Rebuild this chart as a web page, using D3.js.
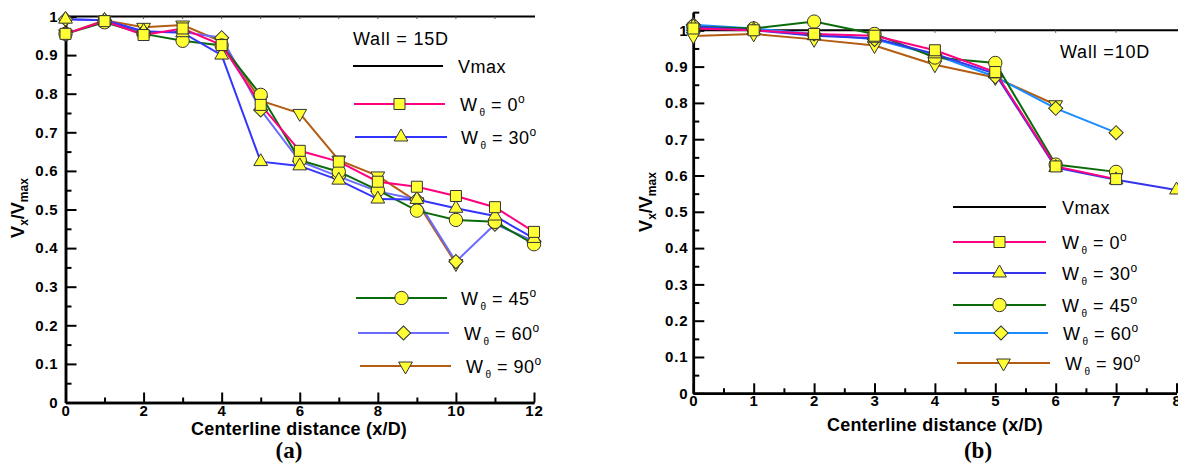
<!DOCTYPE html>
<html><head><meta charset="utf-8">
<script src="https://cdn.jsdelivr.net/npm/d3@7/dist/d3.min.js"></script>
<style>
html,body{margin:0;padding:0;background:#fff;}
svg{display:block;}
text{font-family:"Liberation Sans",Arial,Helvetica,sans-serif;}
</style></head>
<body>
<svg id="c" width="1178" height="470"></svg>
<script>
// ---------- DATA ----------
const seriesNames = ["0", "30", "45", "60", "90"];

// Panel (a): Wall = 15D
const xA = [0,1,2,3,4,5,6,7,8,9,10,11,12];
const a_W0  = [0.955,0.988,0.952,0.969,0.926,0.771,0.652,0.624,0.572,0.559,0.535,0.506,0.442];
const a_W30 = [0.993,0.990,0.962,0.958,0.900,0.624,0.613,0.576,0.527,0.526,0.503,0.483,0.425];
const a_W45 = [0.955,0.985,0.955,0.937,0.925,0.797,0.628,0.598,0.550,0.497,0.473,0.468,0.410];
const a_W60 = [0.993,0.990,0.960,0.960,0.945,0.758,0.625,0.585,0.547,0.526,0.365,0.462,0.418];
const a_W90 = [0.955,0.990,0.972,0.978,0.935,0.782,0.749,0.628,0.587,0.520,0.360];

// Panel (b): Wall = 10D
const xB = [0,1,2,3,4,5,6,7,8];
const b_W0  = [1.005,1.000,0.990,0.985,0.945,0.885,0.625,0.590];
const b_W30 = [1.010,1.000,0.985,0.978,0.935,0.880,0.622,0.588,0.560];
const b_W45 = [1.010,1.005,1.024,0.990,0.925,0.910,0.630,0.610];
const b_W60 = [1.015,1.005,0.990,0.975,0.932,0.872,0.785,0.718];
const b_W90 = [0.984,0.990,0.975,0.958,0.905,0.870,0.795];

const vmax = 1;

// tick values
const aXMajor = [0,2,4,6,8,10,12];
const aXMinor = [1,3,5,7,9,11];
const aYMajor = [0,0.1,0.2,0.3,0.4,0.5,0.6,0.7,0.8,0.9,1];
const aYMinor = [0.05,0.15,0.25,0.35,0.45,0.55,0.65,0.75,0.85,0.95];
const bXMajor = [0,1,2,3,4,5,6,7,8];
const bXMinor = [0.5,1.5,2.5,3.5,4.5,5.5,6.5,7.5];
const bYMajor = [0,0.1,0.2,0.3,0.4,0.5,0.6,0.7,0.8,0.9,1];
const bYMinor = [0.05,0.15,0.25,0.35,0.45,0.55,0.65,0.75,0.85,0.95,1.05];

// ---------- STYLE ----------
const fillY = "#ffff33";
const mStroke = "#333";
const shapes = ["square","triangle","circle","diamond","down"];
const colorsA = ["#ff0080","#3434ff","#0b6b0b","#6b6bff","#b35c12"];
const colorsB = ["#ff0080","#3434ee","#0b6b0b","#1a8cff","#b35c12"];

const svg = d3.select("#c");

function markerPath(shape){
  if(shape==="square") return d3.symbol(d3.symbolSquare,121)();
  if(shape==="circle") return d3.symbol(d3.symbolCircle,140)();
  if(shape==="triangle"||shape==="down") return d3.symbol(d3.symbolTriangle,82)();
  if(shape==="diamond") return d3.symbol(d3.symbolSquare,100)();
}
function markerTransform(shape,x,y){
  if(shape==="down") return `translate(${x},${y}) rotate(180)`;
  if(shape==="diamond") return `translate(${x},${y}) rotate(45)`;
  return `translate(${x},${y})`;
}
function drawMarker(g,shape,x,y){
  g.append("path").attr("d",markerPath(shape))
    .attr("transform",markerTransform(shape,x,y))
    .attr("fill",fillY).attr("stroke",mStroke).attr("stroke-width",1);
}

function panel(cfg){
  const g = svg.append("g");
  const x = d3.scaleLinear().domain(cfg.xDomain).range(cfg.xRange);
  const y = d3.scaleLinear().domain(cfg.yDomain).range(cfg.yRange);

  // Vmax line
  g.append("line").attr("x1",x(cfg.xDomain[0])).attr("x2",cfg.vmaxEnd)
    .attr("y1",y(vmax)).attr("y2",y(vmax)).attr("stroke","#000").attr("stroke-width",2);
  g.selectAll(".vt").data(cfg.topTicks).enter().append("line")
    .attr("x1",d=>x(d)).attr("x2",d=>x(d)).attr("y1",y(vmax)).attr("y2",y(vmax)+2.5)
    .attr("stroke","#555").attr("stroke-width",1);

  // axes
  g.append("g").attr("transform",`translate(${x(cfg.xDomain[0])},0)`)
    .call(d3.axisLeft(y).tickValues(cfg.yMajor).tickSize(-11).tickSizeOuter(0).tickPadding(cfg.yPad).tickFormat(d3.format("")));
  g.append("g").attr("transform",`translate(${x(cfg.xDomain[0])},0)`)
    .call(d3.axisLeft(y).tickValues(cfg.yMinor).tickSize(-6).tickSizeOuter(0).tickFormat(""));
  g.append("g").attr("transform",`translate(0,${y(0)})`)
    .call(d3.axisBottom(x).tickValues(cfg.xMajor).tickSize(-10).tickSizeOuter(0).tickPadding(cfg.xPad).tickFormat(d3.format("")));
  g.append("g").attr("transform",`translate(0,${y(0)})`)
    .call(d3.axisBottom(x).tickValues(cfg.xMinor).tickSize(-5).tickSizeOuter(0).tickFormat(""));
  g.selectAll(".domain").attr("stroke","#000").attr("stroke-width",2.5);
  g.selectAll(".tick line").attr("stroke","#000").attr("stroke-width",2);
  g.selectAll(".tick text").attr("fill","#000")
    .style("font-size","15px").style("font-weight","bold").style("letter-spacing","0.8px")
    .style("font-family","'Liberation Sans',Arial,sans-serif");

  // series
  const line = d3.line().x(d=>x(d[0])).y(d=>y(d[1]));
  const order = [4,3,2,1,0];
  order.forEach(i=>{
    const vals = cfg.series[i];
    const pts = vals.map((v,k)=>[cfg.xs[k],v]);
    g.append("path").attr("d",line(pts)).attr("fill","none")
      .attr("stroke",cfg.colors[i]).attr("stroke-width",2);
  });
  order.forEach(i=>{
    const vals = cfg.series[i];
    vals.forEach((v,k)=>drawMarker(g,shapes[i],x(cfg.xs[k]),y(v)));
  });

  // legend title
  g.append("text").attr("x",cfg.title[0]).attr("y",cfg.title[1]).attr("font-size","18px")
    .attr("letter-spacing","0.8px").text(cfg.titleText);
  const L = cfg.legend;
  g.append("line").attr("x1",L.vmax[0]).attr("x2",L.vmax[1]).attr("y1",L.vmax[2]).attr("y2",L.vmax[2])
    .attr("stroke","#000").attr("stroke-width",2);
  g.append("text").attr("x",L.vmax[3]).attr("y",L.vmax[2]+7).attr("font-size","18px").attr("letter-spacing","0.5px").text("Vmax");
  L.items.forEach((it,i)=>{
    g.append("line").attr("x1",it[0]).attr("x2",it[1]).attr("y1",it[2]).attr("y2",it[2])
      .attr("stroke",cfg.colors[i]).attr("stroke-width",2);
    drawMarker(g,shapes[i],(it[0]+it[1])/2,it[2]);
    const t = g.append("text").attr("x",it[3]).attr("y",it[2]+7).attr("font-size","18px").attr("letter-spacing","0.5px");
    t.append("tspan").text("W");
    t.append("tspan").attr("font-size","10px").attr("dy",5).attr("dx",2).text("θ");
    t.append("tspan").attr("dy",-5).text(" = " + seriesNames[i]);
    t.append("tspan").attr("font-size","12px").attr("dy",-8).text("o");
  });

  // axis titles
  g.append("text").attr("x",cfg.xTitle[0]).attr("y",cfg.xTitle[1]).attr("text-anchor","middle")
    .attr("font-size","18px").attr("font-weight","bold").attr("letter-spacing","0.2px").text("Centerline distance (x/D)");
  const yt = g.append("text").attr("transform",`translate(${cfg.yTitle[0]},${cfg.yTitle[1]}) rotate(-90)`)
    .attr("text-anchor","middle").attr("font-size","18px").attr("font-weight","bold");
  yt.append("tspan").text("V");
  yt.append("tspan").attr("font-size","12px").attr("dy",4).text("x");
  yt.append("tspan").attr("dy",-4).text("/V");
  yt.append("tspan").attr("font-size","12px").attr("dy",4).text("max");
  // panel label (serif)
  g.append("text").attr("x",cfg.label[0]).attr("y",cfg.label[1]).attr("text-anchor","middle")
    .style("font-family","'Liberation Serif','DejaVu Serif','Times New Roman',serif").style("font-weight","bold")
    .style("font-size","23px").text(cfg.labelText);
}

panel({
  xDomain:[0,12], xRange:[65.5,534], yDomain:[0,1], yRange:[402.5,16.5],
  xs:xA, series:[a_W0,a_W30,a_W45,a_W60,a_W90], colors:colorsA,
  xMajor:aXMajor, xMinor:aXMinor, yMajor:aYMajor, yMinor:aYMinor, yPad:7, xPad:3,
  vmaxEnd:535, topTicks:[1,2,3,4,5,6,7,8,9,10,11],
  title:[353,45], titleText:"Wall = 15D",
  legend:{vmax:[353,443,66,458],
    items:[[354,445,104,460],[355,447,137,461],[356,447,298,461],[358,449,333,464],[360,451,366,466]]},
  xTitle:[299,435], yTitle:[24,208], label:[289,458], labelText:"(a)"
});
panel({
  xDomain:[0,8], xRange:[693.3,1176.5], yDomain:[0,1.05], yRange:[393.3,12.15],
  xs:xB, series:[b_W0,b_W30,b_W45,b_W60,b_W90], colors:colorsB,
  xMajor:bXMajor, xMinor:bXMinor, yMajor:bYMajor, yMinor:bYMinor, yPad:5, xPad:2,
  vmaxEnd:1178, topTicks:[1,2,3,4,5,6,7],
  title:[1060,58], titleText:"Wall =10D",
  legend:{vmax:[953,1046,207,1062],
    items:[[953,1046,242,1062],[953,1046,273,1062],[953,1046,305,1062],[954,1048,333,1063],[957,1050,363,1065]]},
  xTitle:[935,431], yTitle:[652,202], label:[978,458], labelText:"(b)"
});
</script>
</body></html>
